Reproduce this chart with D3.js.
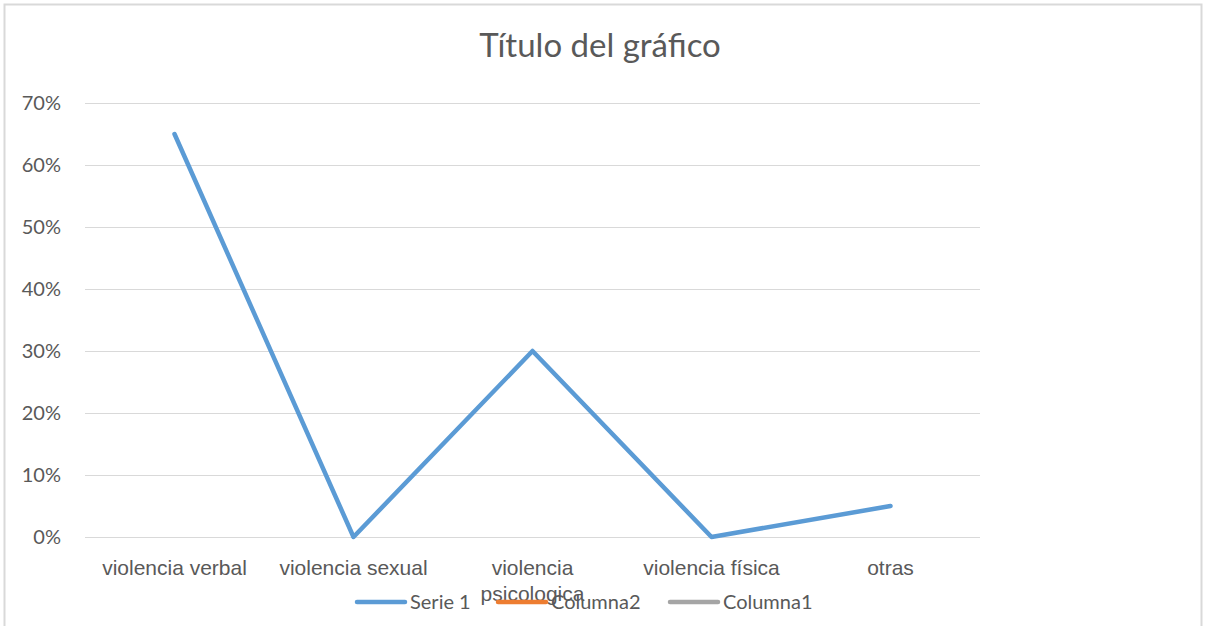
<!DOCTYPE html>
<html>
<head>
<meta charset="utf-8">
<script src="https://cdn.jsdelivr.net/npm/d3@7"></script>
<style>
  body { margin: 0; background: #fff; }
  svg { display: block; font-family: Lato, "Liberation Sans", sans-serif; }
</style>
</head>
<body>
<svg width="1206" height="626"></svg>
<script>
var categories = ["violencia verbal", "violencia sexual", "violencia psicologica", "violencia física", "otras"];
var serie1 = [0.65, 0.00, 0.30, 0.00, 0.05];
var yTicks = [0, 0.1, 0.2, 0.3, 0.4, 0.5, 0.6, 0.7];
var legendItems = [
    {name: "Serie 1", color: "#5b9bd5"},
    {name: "Columna2", color: "#ed7d31"},
    {name: "Columna1", color: "#a5a5a5"}
];

var svg = d3.select("svg");
var width = +svg.attr("width");
var height = +svg.attr("height");
var margin = {top: 103, right: 226, bottom: 89, left: 85};

// chart frame
svg.append("rect")
    .attr("x", 4.5).attr("y", 4.5)
    .attr("width", 1197).attr("height", 640)
    .attr("fill", "#fff")
    .attr("stroke", "#d9d9d9")
    .attr("stroke-width", 2);

var x = d3.scaleBand()
    .domain(categories)
    .range([margin.left, width - margin.right]);

var y = d3.scaleLinear()
    .domain([0, 0.7])
    .range([height - margin.bottom, margin.top]);

// gridlines
svg.append("g")
    .selectAll("line")
    .data(yTicks)
    .enter()
    .append("line")
    .attr("x1", margin.left)
    .attr("x2", width - margin.right)
    .attr("y1", function(d) { return y(d) + 0.5; })
    .attr("y2", function(d) { return y(d) + 0.5; })
    .attr("stroke", "#d9d9d9")
    .attr("stroke-width", 1);

// y axis labels
var yAxis = svg.append("g")
    .attr("transform", "translate(" + (margin.left - 21) + ",0)")
    .call(d3.axisLeft(y).tickValues(yTicks).tickFormat(d3.format(".0%")).tickSize(0));
yAxis.select(".domain").remove();
yAxis.selectAll("text")
    .attr("fill", "#595959")
    .style("font-size", "20px")
    .style("font-family", "Lato, sans-serif");

// x axis labels (wrapped like the original)
var xAxis = svg.append("g")
    .attr("transform", "translate(0," + (height - margin.bottom) + ")")
    .call(d3.axisBottom(x).tickSize(0).tickPadding(0).tickFormat(""));
xAxis.select(".domain").remove();
xAxis.selectAll(".tick").each(function(d) {
    var t = d3.select(this).append("text")
        .attr("fill", "#595959")
        .attr("text-anchor", "middle")
        .style("font-size", "21px");
    var lines = d === "violencia psicologica" ? ["violencia", "psicologica"] : [d];
    lines.forEach(function(s, i) {
        t.append("tspan").attr("x", 0).attr("y", 38 + i * 26).text(s);
    });
});

// line
var line = d3.line()
    .x(function(d, i) { return x(categories[i]) + x.bandwidth() / 2; })
    .y(function(d) { return y(d); });

svg.append("path")
    .datum(serie1)
    .attr("d", line)
    .attr("fill", "none")
    .attr("stroke", "#5b9bd5")
    .attr("stroke-width", 4.5)
    .attr("stroke-linecap", "round")
    .attr("stroke-linejoin", "round");

// title
svg.append("text")
    .attr("x", 600)
    .attr("y", 57)
    .attr("text-anchor", "middle")
    .attr("fill", "#595959")
    .style("font-size", "33px")
    .text("Título del gráfico");

// legend
var legendX = [357, 498, 670];
var legend = svg.append("g")
    .selectAll("g")
    .data(legendItems)
    .enter()
    .append("g")
    .attr("transform", function(d, i) { return "translate(" + legendX[i] + ",602)"; });

legend.append("line")
    .attr("x1", 0).attr("x2", 48)
    .attr("stroke", function(d) { return d.color; })
    .attr("stroke-width", 4.5)
    .attr("stroke-linecap", "round");

legend.append("text")
    .attr("x", 53)
    .attr("y", 7)
    .attr("fill", "#595959")
    .style("font-size", "20px")
    .text(function(d) { return d.name; });
</script>
</body>
</html>
